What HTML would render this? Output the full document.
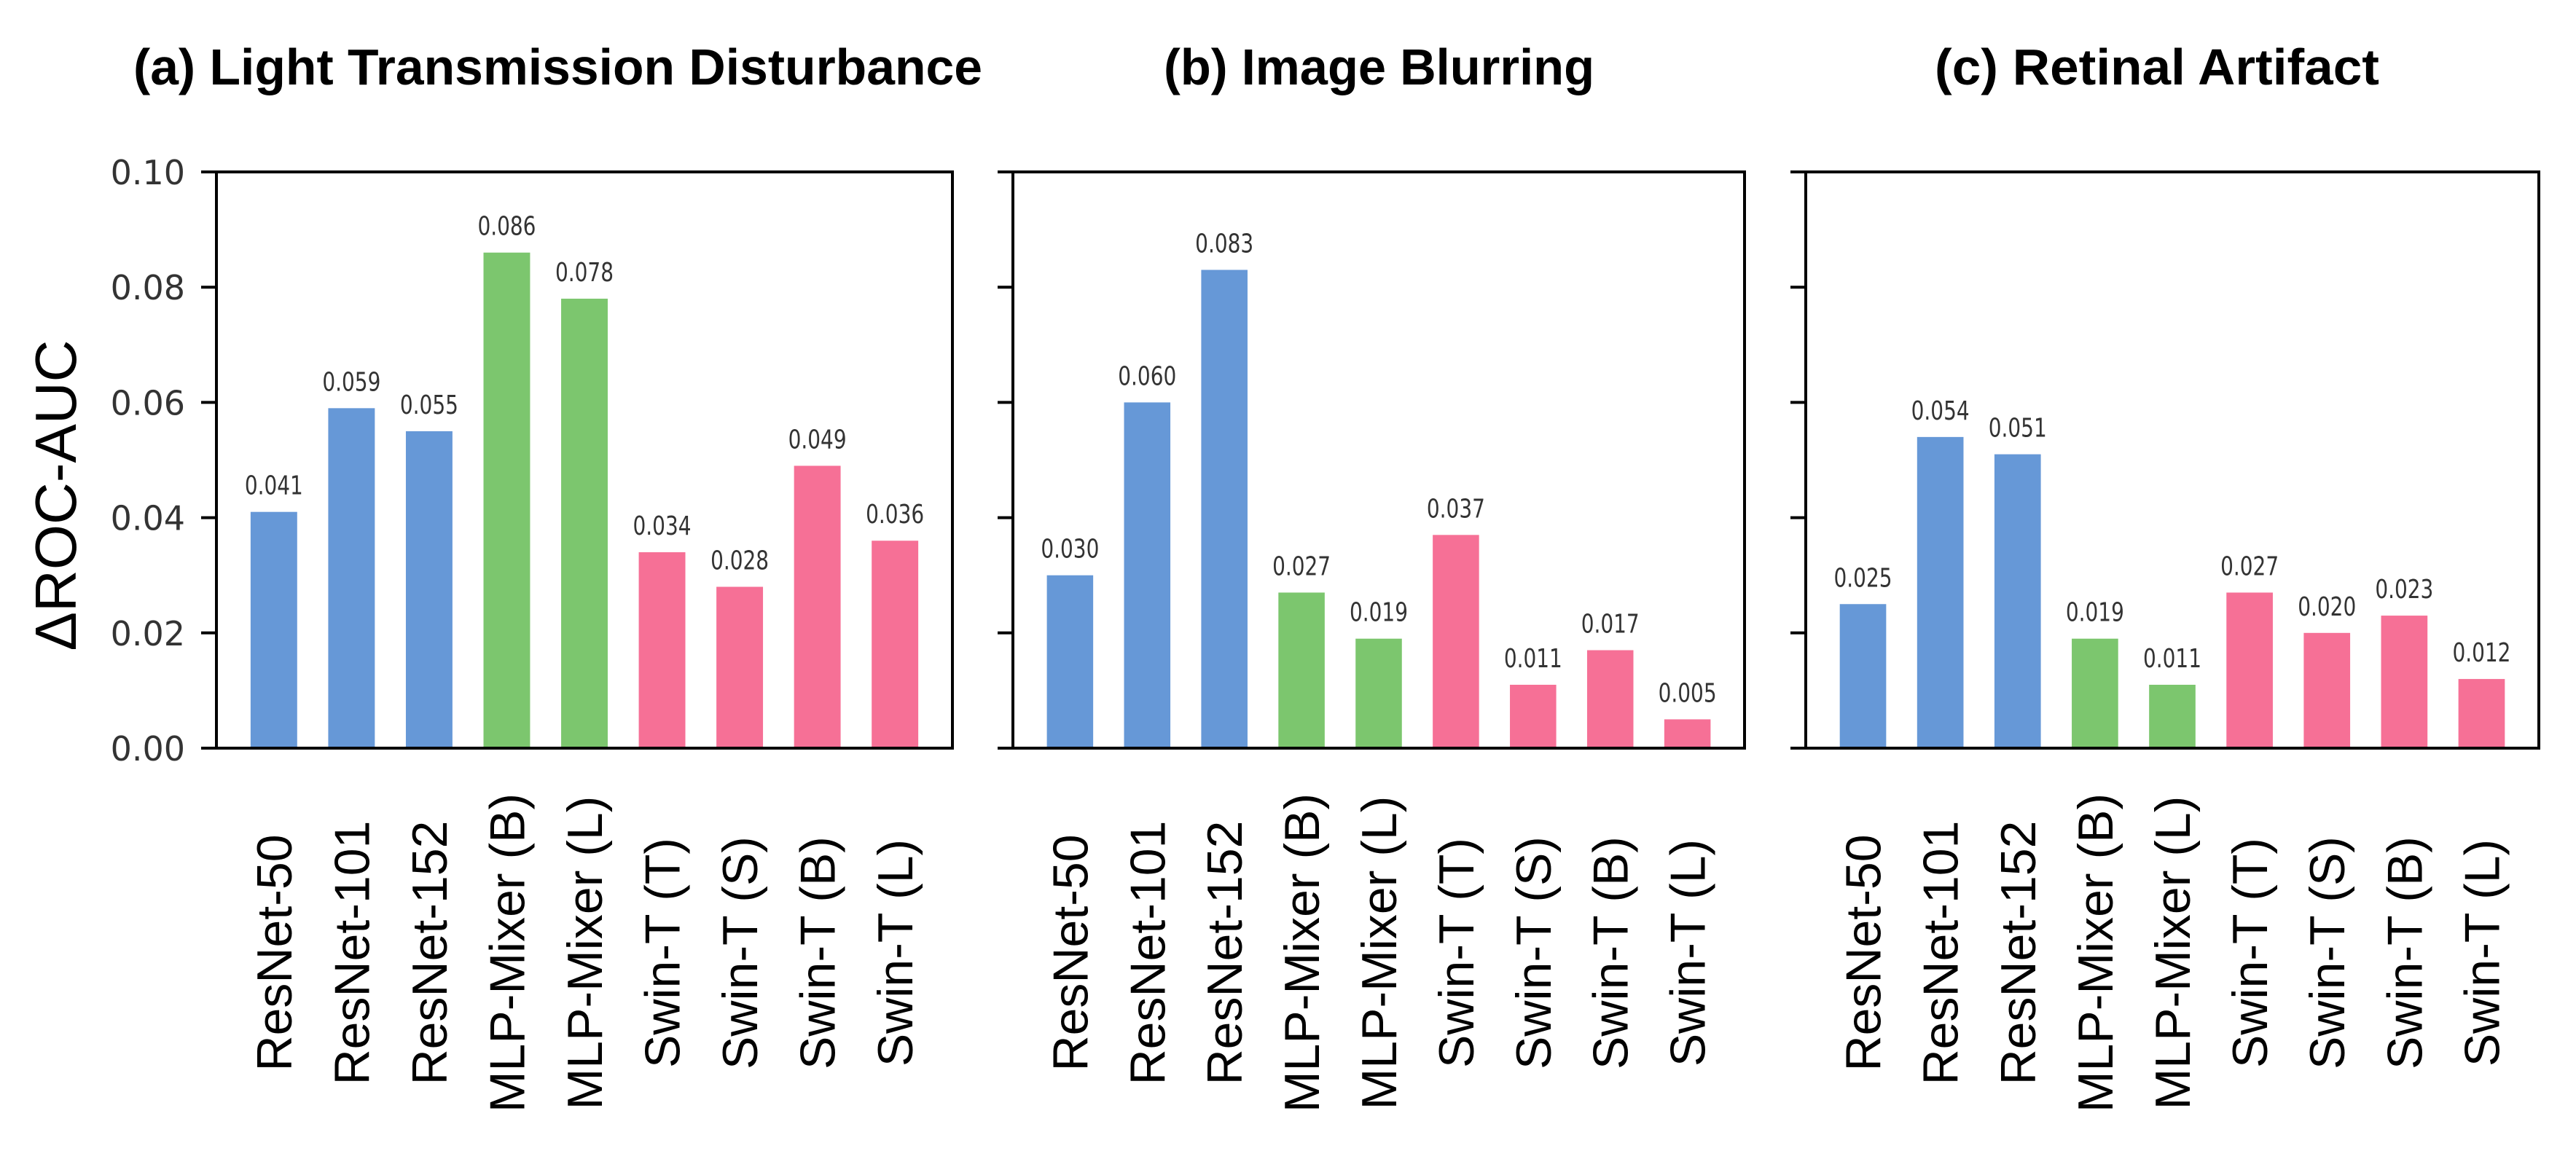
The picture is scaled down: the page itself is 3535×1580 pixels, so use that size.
<!DOCTYPE html>
<html><head><meta charset="utf-8"><style>
html,body{margin:0;padding:0;background:#fff;}
svg{display:block;}
</style></head><body>
<svg id="chart" width="3535" height="1580" viewBox="0 0 3535 1580" xmlns="http://www.w3.org/2000/svg">
<text x="0" y="0" transform="translate(104,680) rotate(-90)" text-anchor="middle" font-family="Liberation Sans, sans-serif" font-size="80" fill="#000">ΔROC-AUC</text>
</svg>
<script>
const categories = ["ResNet-50","ResNet-101","ResNet-152","MLP-Mixer (B)","MLP-Mixer (L)","Swin-T (T)","Swin-T (S)","Swin-T (B)","Swin-T (L)"];
const groups = ["resnet","resnet","resnet","mlp","mlp","swin","swin","swin","swin"];
const panelTitles = ["(a) Light Transmission Disturbance","(b) Image Blurring","(c) Retinal Artifact"];
const valuesLight = [0.041,0.059,0.055,0.086,0.078,0.034,0.028,0.049,0.036];
const valuesBlur = [0.030,0.060,0.083,0.027,0.019,0.037,0.011,0.017,0.005];
const valuesRetina = [0.025,0.054,0.051,0.019,0.011,0.027,0.020,0.023,0.012];
const yTicks = [0.00,0.02,0.04,0.06,0.08,0.10];
const yTickLabels = ["0.00","0.02","0.04","0.06","0.08","0.10"];

const NS="http://www.w3.org/2000/svg";
const svg=document.getElementById('chart');
const colors={resnet:"#6698d7",mlp:"#7cc66e",swin:"#f67096"};
const panels=[
 {left:297,right:1307,values:valuesLight,title:{x:183,w:1165},key:"light"},
 {left:1390,right:2394,values:valuesBlur,title:{x:1597,w:591},key:"blur"},
 {left:2478,right:3484,values:valuesRetina,title:{x:2655,w:610},key:"retina"}
];
const yTop=236,yBot=1027,yMax=0.10;
function yScale(v){return yBot-(v/yMax)*(yBot-yTop);}
function mk(tag,attrs){const e=document.createElementNS(NS,tag);for(const k in attrs)e.setAttribute(k,attrs[k]);svg.appendChild(e);return e;}

panels.forEach((p,pi)=>{
  const n=categories.length, margin=0.74;
  const unit=(p.right-p.left)/(n-1+2*margin);
  const xScale=i=>p.left+(margin+i)*unit;
  const bw=0.6*unit;
  const t=mk('text',{x:p.title.x,y:116,textLength:p.title.w,lengthAdjust:'spacingAndGlyphs','font-family':'Liberation Sans, sans-serif','font-weight':'bold','font-size':70,fill:'#000'});
  t.textContent=panelTitles[pi];
  
  
  p.values.forEach((v,i)=>{
    const cx=xScale(i), y=yScale(v);
    const r=mk('rect',{x:cx-bw/2,y:y,width:bw,height:yBot-y,fill:colors[groups[i]]});
    
    
    const lb=mk('text',{x:cx,y:y-24,'text-anchor':'middle','font-family':'DejaVu Sans Condensed, DejaVu Sans, sans-serif','font-size':36,fill:'#333',textLength:80,lengthAdjust:'spacingAndGlyphs'});
    lb.textContent=v.toFixed(3);
    
    
    const xl=mk('text',{x:0,y:0,transform:`translate(${cx+24},1308) rotate(-90)`,'text-anchor':'middle','font-family':'Liberation Sans, sans-serif','font-size':68,fill:'#000'});
    xl.textContent=categories[i];
    
    
  });
  const fr=mk('rect',{x:p.left,y:yTop,width:p.right-p.left,height:yBot-yTop,fill:'none',stroke:'#000','stroke-width':4});
  
  
  yTicks.forEach((tv,ti)=>{
    const yy=yScale(tv);
    const tk=mk('line',{x1:p.left-21,x2:p.left,y1:yy,y2:yy,stroke:'#000','stroke-width':4});
    
    
    if(pi===0){
      const tl=mk('text',{x:254,y:yy+17,'text-anchor':'end','font-family':'DejaVu Sans, sans-serif','font-size':46,fill:'#333'});
      tl.textContent=yTickLabels[ti];
      
      
    }
  });
});
</script>
</body></html>
